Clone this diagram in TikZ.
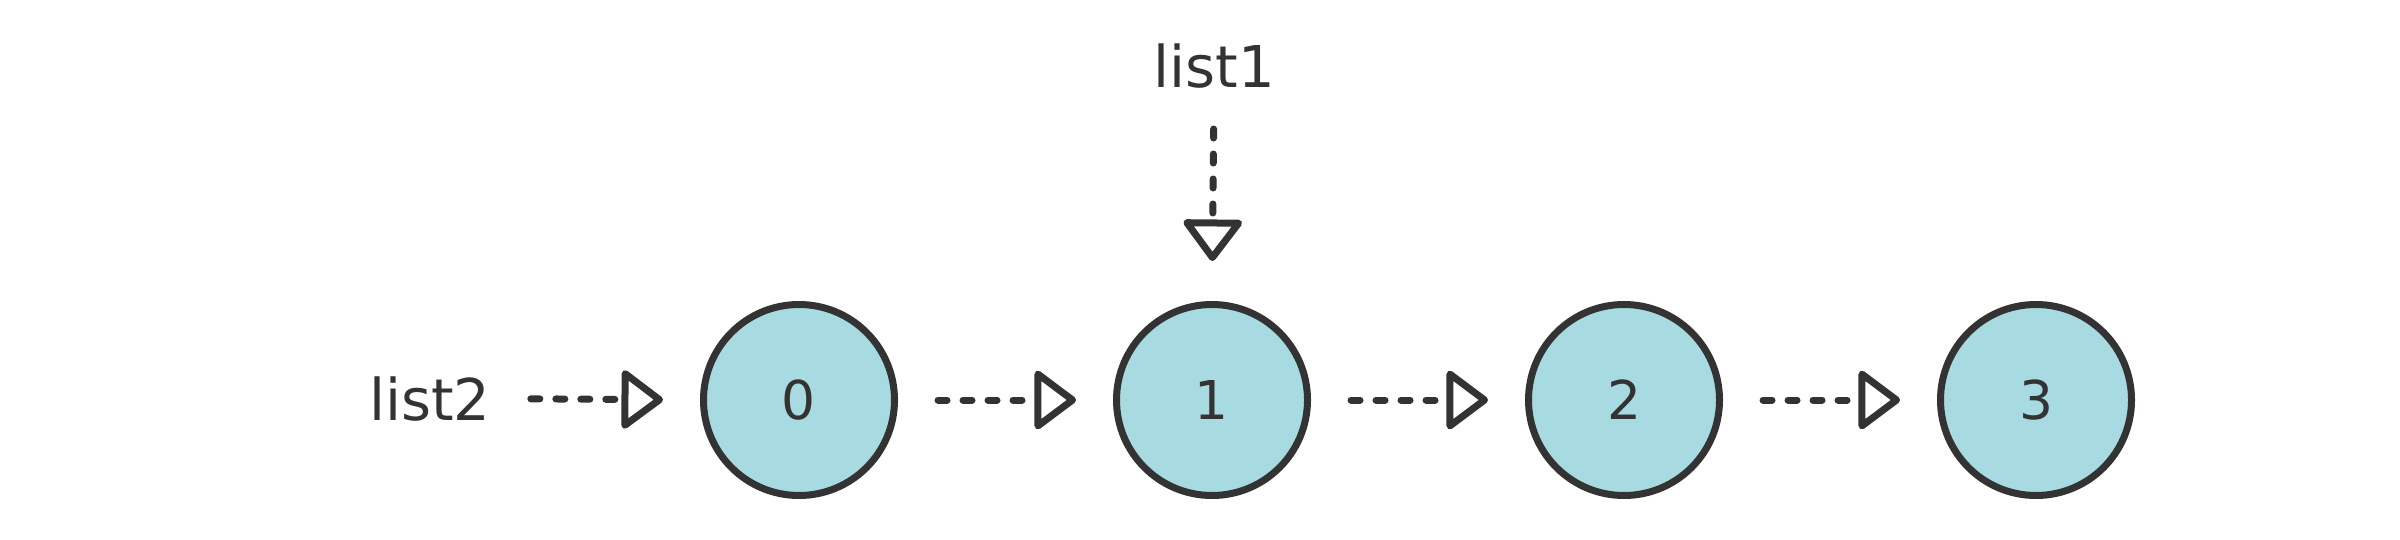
\documentclass[tikz,border=0pt]{standalone}
\usepackage{fontspec}
\setmainfont{DejaVu Sans}
\usetikzlibrary{arrows.meta}
\definecolor{ink}{HTML}{333333}
\definecolor{nodefill}{HTML}{A8DAE2}
\tikzset{
  listnode/.style={circle, draw=ink, fill=nodefill, line width=7pt, minimum size=191pt, inner sep=0pt,
    text=ink, font=\fontsize{53.5}{60}\selectfont},
  label/.style={inner sep=0pt, text=ink, font=\fontsize{57.6}{64}\selectfont},
  link/.style={draw=ink, line width=7pt, line cap=round, dash pattern=on 9pt off 16pt,
    -{Triangle[open, length=44pt, width=64pt, line join=round, line cap=round]}}
}
\begin{document}
\begin{tikzpicture}[x=1pt,y=-1pt]
  \useasboundingbox (0,0) rectangle (2400,540);
  \node[listnode] (n0) at (799,400) {0};
  \node[listnode] (n1) at (1212,400) {1};
  \node[listnode] (n2) at (1624,400) {2};
  \node[listnode] (n3) at (2036,400) {3};
  \node[label, anchor=base] (list1) at (1214,88) {list1};
  \node[label, anchor=base] (list2) at (430,420) {list2};
  \draw[link, shorten <=40pt, shorten >=37pt] (list2.east) -- (n0.west);
  \draw[link, shorten <=40pt, shorten >=37pt] (n0.east) -- (n1.west);
  \draw[link, shorten <=40pt, shorten >=37pt] (n1.east) -- (n2.west);
  \draw[link, shorten <=40pt, shorten >=37pt] (n2.east) -- (n3.west);
  \draw[link, shorten <=40pt, shorten >=40pt] (list1.south) -- (n1.north);
\end{tikzpicture}
\end{document}
